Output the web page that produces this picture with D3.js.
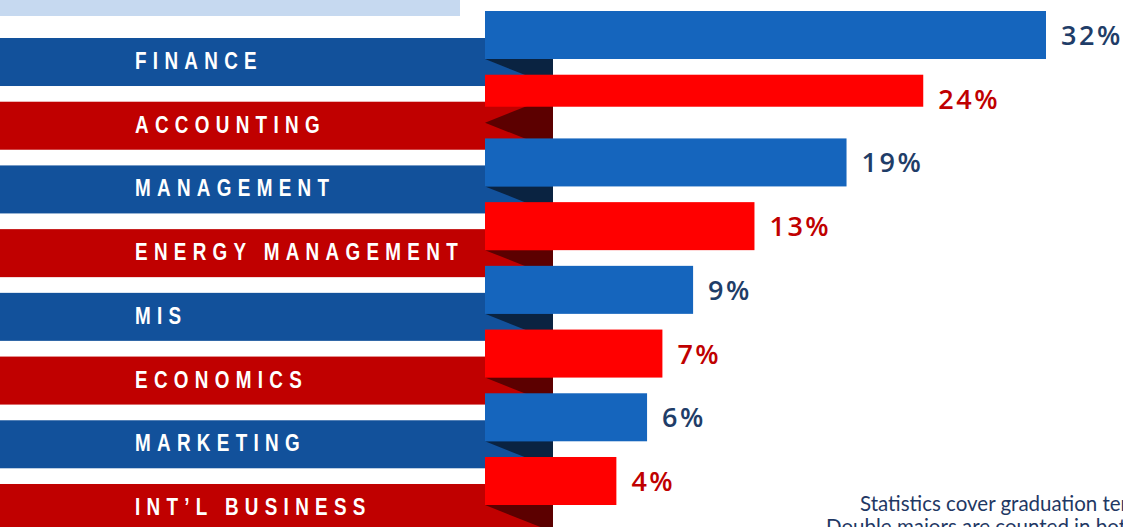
<!DOCTYPE html>
<html>
<head>
<meta charset="utf-8">
<script src="https://cdn.jsdelivr.net/npm/d3@7"></script>
<style>
  body { margin: 0; background: #fff; overflow: hidden; }
</style>
</head>
<body>
<div id="chart"></div>
<script>

// majors and share of graduates
const majors = ["FINANCE", "ACCOUNTING", "MANAGEMENT", "ENERGY MANAGEMENT",
                "MIS", "ECONOMICS", "MARKETING", "INT\u2019L BUSINESS"];
const shares = [32, 24, 19, 13, 9, 7, 6, 4];
const noteLines = ["Statistics cover graduation terms from the last two academic years.",
                   "Double majors are counted in both majors."];

const width = 1123;
const height = 527;
const barLeft = 485;    // where the value bars start
const foldRight = 553;  // end of the ribbon under the bars
const bandDrop = 27;    // label ribbon sits lower than its bar

// colours alternate blue / red by row
const bandColor = i => i % 2 ? "#c00000" : "#12519b";
const barColor  = i => i % 2 ? "#ff0000" : "#1565bd";
const foldColor = i => i % 2 ? "#5c0000" : "#0a2341";
const textColor = i => i % 2 ? "#c00000" : "#1f3d68";

const svg = d3.select("#chart")
  .append("svg")
  .attr("width", width)
  .attr("height", height);

// rows
const yScale = d3.scaleBand()
  .domain(majors)
  .range([11, 505])
  .paddingInner(0.2465)
  .paddingOuter(0);

// bar length, measured from the ribbon end
const xScale = d3.scaleLinear()
  .domain([0, 32])
  .range([555, 1046]);

const bh = yScale.bandwidth();

// light strip at the very top
svg.append("rect")
  .attr("x", 0).attr("y", 0)
  .attr("width", 460).attr("height", 16)
  .attr("fill", "#c6d9f0");

/* label ribbons */
svg.selectAll(".band")
  .data(majors)
  .enter()
  .append("rect")
    .attr("class", "band")
    .attr("x", 0)
    .attr("y", d => yScale(d) + bandDrop)
    .attr("width", foldRight)
    .attr("height", bh)
    .attr("fill", (d, i) => bandColor(i));

// dark fold between bar and ribbon
svg.selectAll(".fold")
  .data(majors)
  .enter()
  .append("path")
    .attr("class", "fold")
    .attr("d", (d, i) => {
      const b = yScale(d) + bh;
      const bb = yScale(d) + bandDrop + bh;
      if (d === "ACCOUNTING") {
        // this one is folded both ways in the original
        return `M${foldRight},${b - (bb - b)}L${barLeft},${b}L${foldRight},${bb}Z`;
      }
      return `M${barLeft},${b}L${foldRight},${b}L${foldRight},${bb}Z`;
    })
    .attr("fill", (d, i) => foldColor(i));

// condensed caps: arial-style bold squeezed horizontally
svg.selectAll(".bandlabel")
  .data(majors)
  .enter()
  .append("text")
    .attr("class", "bandlabel")
    .attr("transform", d => `translate(135,${yScale(d) + bandDrop + 31}) scale(0.82,1)`)
    .attr("fill", "#fff")
    .attr("font-family", "'Liberation Sans', Arial, sans-serif")
    .attr("font-weight", "bold")
    .attr("font-size", "23px")
    .attr("letter-spacing", "7.7px")
    .text(d => d);

/* bars */
svg.selectAll(".bar")
  .data(shares)
  .enter()
  .append("rect")
    .attr("class", "bar")
    .attr("x", barLeft)
    .attr("y", (d, i) => yScale(majors[i]))
    .attr("width", d => xScale(d) - barLeft)
    .attr("height", (d, i) => majors[i] === "ACCOUNTING" ? bh - 16 : bh)
    .attr("fill", (d, i) => barColor(i));

svg.selectAll(".value")
  .data(shares)
  .enter()
  .append("text")
    .attr("class", "value")
    .attr("x", d => xScale(d) + 15)
    .attr("y", (d, i) => yScale(majors[i]) + bh / 2 + 10)
    .attr("fill", (d, i) => textColor(i))
    .attr("font-family", "'Open Sans', sans-serif")
    .attr("font-weight", 600)
    .attr("font-size", "27px")
    .attr("letter-spacing", "2.5px")
    .text(d => d + "%");

// footnote, runs off the right edge like the original
svg.selectAll(".note")
  .data(noteLines)
  .enter()
  .append("text")
    .attr("class", "note")
    .attr("x", (d, i) => i ? 826 : 860)
    .attr("y", (d, i) => 511 + i * 23)
    .attr("fill", "#1f3864")
    .attr("font-family", "Lato, sans-serif")
    .attr("font-size", "20.5px")
    .text(d => d);

</script>
</body>
</html>
